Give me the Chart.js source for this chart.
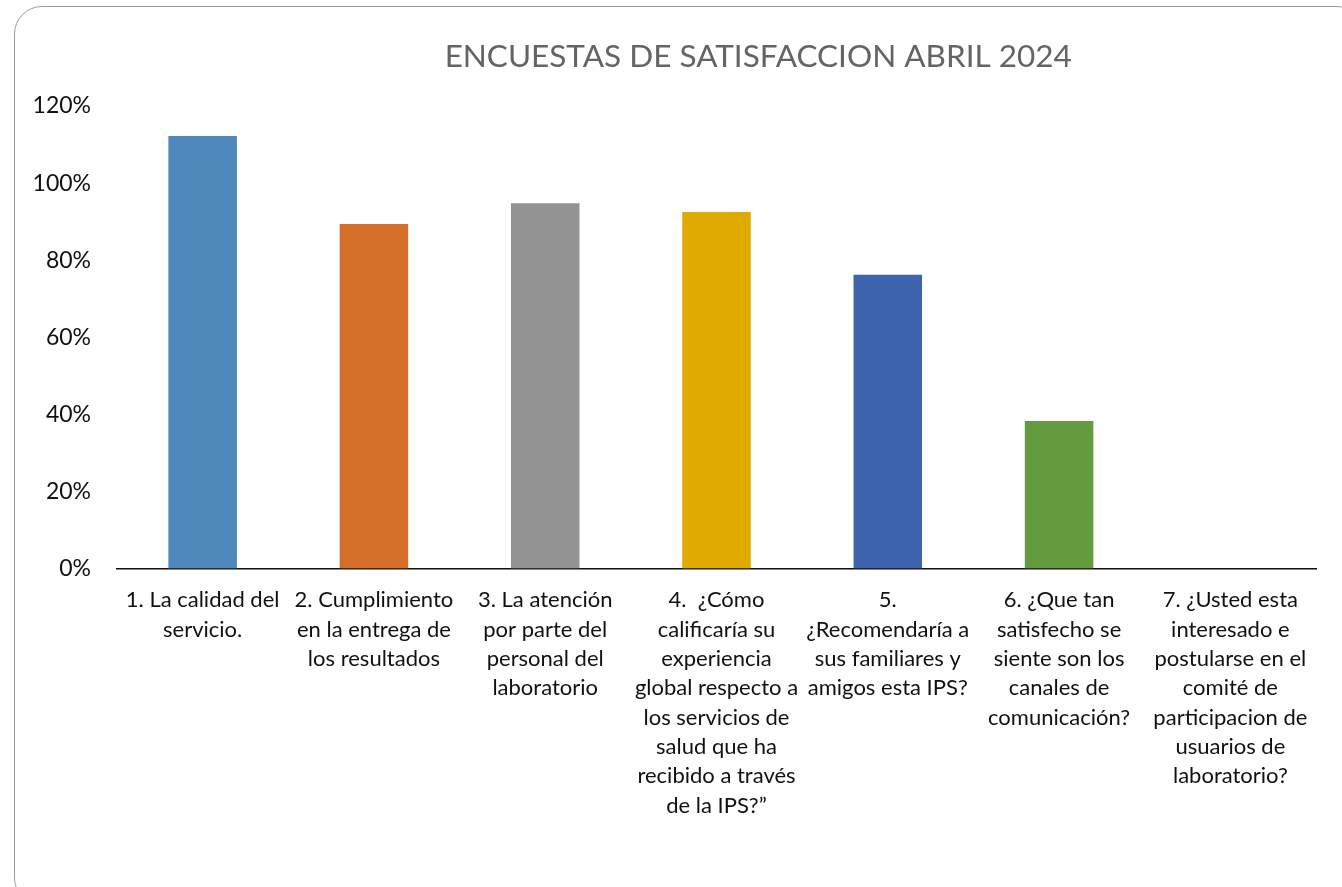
<!DOCTYPE html>
<html>
<head>
<meta charset="utf-8">
<script src="https://cdn.jsdelivr.net/npm/chart.js@4/dist/chart.umd.min.js"></script>
<style>
  html, body { margin: 0; padding: 0; background: #fff; overflow: hidden; }
  #wrap { position: relative; width: 1342px; height: 887px; }
  #frame {
    position: absolute; left: 14px; top: 6px; width: 1350px; height: 900px;
    border: 1.5px solid #9c9c9c; border-radius: 28px; box-sizing: border-box;
  }
  canvas { position: absolute; left: 0; top: 0; }
</style>
</head>
<body>
<div id="wrap">
  <div id="frame"></div>
  <canvas id="chart" width="1342" height="887"></canvas>
</div>
<script>
// --- DATOS ---
const chartTitle = 'ENCUESTAS DE SATISFACCION ABRIL 2024';

const categorias = [
  ['1. La calidad del', 'servicio.'],
  ['2. Cumplimiento', 'en la entrega de', 'los resultados'],
  ['3. La atención', 'por parte del', 'personal del', 'laboratorio'],
  ['4.  ¿Cómo', 'calificaría su', 'experiencia', 'global respecto a', 'los servicios de', 'salud que ha', 'recibido a través', 'de la IPS?”'],
  ['5.', '¿Recomendaría a', 'sus familiares y', 'amigos esta IPS?'],
  ['6. ¿Que tan', 'satisfecho se', 'siente son los', 'canales de', 'comunicación?'],
  ['7. ¿Usted esta', 'interesado e', 'postularse en el', 'comité de', 'participacion de', 'usuarios de', 'laboratorio?']
];

// porcentaje de satisfaccion (fraccion)
const satisfaccion = [1.122, 0.894, 0.948, 0.925, 0.762, 0.383, 0];

const colores = ['#4f89bb', '#d46e29', '#939393', '#e1aa00', '#3d64ad', '#639b3e', '#4f89bb'];

const yMin = 0;
const yMax = 1.2;
const yStep = 0.2;

const FONT = 'Lato, "Open Sans", sans-serif';

// Titulo desplazado a la derecha como en el original
const titlePlugin = {
  id: 'tituloCustom',
  afterDraw(chart) {
    const { ctx, width } = chart;
    ctx.save();
    ctx.font = '31.5px ' + FONT;
    ctx.fillStyle = '#646464';
    ctx.textAlign = 'center';
    ctx.textBaseline = 'middle';
    ctx.fillText(chartTitle, width * 0.565, 57);
    ctx.restore();
  }
};

const ctx = document.getElementById('chart');

new Chart(ctx, {
  type: 'bar',
  data: {
    labels: categorias,
    datasets: [{
      label: 'Satisfacción',
      data: satisfaccion,
      backgroundColor: colores,
      borderWidth: 0,
      barPercentage: 0.4,
      categoryPercentage: 1.0
    }]
  },
  plugins: [titlePlugin],
  options: {
    responsive: false,
    animation: false,
    layout: {
      padding: { top: 106, left: 0, right: 26, bottom: 0 }
    },
    plugins: {
      legend: { display: false },
      tooltip: { enabled: false },
      title: { display: false }
    },
    scales: {
      x: {
        grid: { display: false, drawTicks: false },
        border: { display: true, color: '#111', width: 1.5 },
        afterFit: (s) => { s.height = 318.5; },
        ticks: {
          color: '#111',
          autoSkip: false,
          maxRotation: 0,
          minRotation: 0,
          padding: 17,
          font: { family: FONT, size: 22, lineHeight: 1.335 }
        }
      },
      y: {
        min: yMin,
        max: yMax,
        grid: { display: false, drawTicks: false },
        border: { display: false },
        afterFit: (s) => { s.width = 117; },
        ticks: {
          stepSize: yStep,
          color: '#111',
          padding: 26,
          font: { family: FONT, size: 23 },
          callback: (v) => Math.round(v * 100) + '%'
        }
      }
    }
  }
});
</script>
</body>
</html>
